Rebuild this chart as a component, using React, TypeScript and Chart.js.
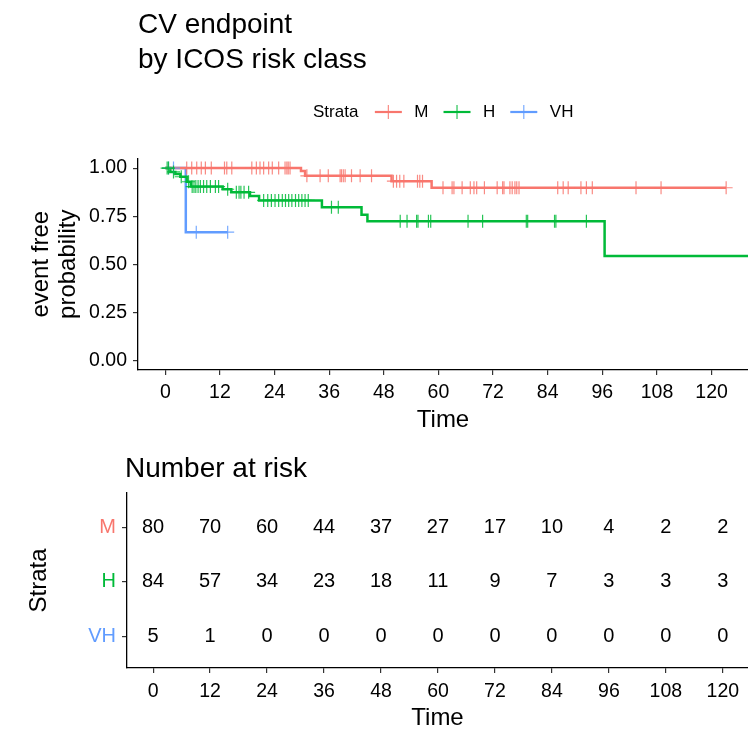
import React, { useEffect, useRef } from 'react';
import { Chart, registerables } from 'chart.js';

Chart.register(...registerables);

const FONT = '"Liberation Sans", Arial, sans-serif';

// Strata
const strata = ['M', 'H', 'VH'];
const strataColors = ['#F8766D', '#00BA38', '#619CFF'];
const censorColors = ['rgba(248,118,109,0.85)', 'rgba(0,186,56,0.85)', 'rgba(97,156,255,0.85)'];

// Kaplan-Meier step curves (time at which survival changes, survival after)
const mTimes = [0, 29.8, 30.7, 49.7, 58.5, 123.2];
const mSurv = [1, 0.985, 0.96, 0.932, 0.898, 0.898];
const hTimes = [0, 1.1, 2.2, 3.3, 4.7, 5.6, 12.6, 14.5, 18.6, 20.6, 34.4, 43.1, 44.4, 96.5, 130];
const hSurv = [1, 0.98, 0.969, 0.955, 0.929, 0.904, 0.89, 0.874, 0.855, 0.832, 0.797, 0.758, 0.723, 0.543, 0.543];
const vhTimes = [0, 4.5, 13.7];
const vhSurv = [1, 0.667, 0.667];

// Censoring times
const mCensor = [4.7, 5.8, 6.9, 7.9, 8.8, 10.1, 13.0, 13.5, 14.6, 19.0, 20.0, 20.8, 21.6, 22.7, 23.5, 24.9,
  26.3, 26.7, 27.0, 27.4, 31.1, 34.0, 35.8, 38.4, 38.7, 39.1, 39.5, 40.9, 42.8, 45.3, 50.1, 50.8, 51.5, 52.4,
  55.4, 55.9, 56.5, 61.0, 63.0, 63.4, 65.2, 67.0, 67.8, 68.4, 70.1, 72.9, 74.1, 74.4, 75.7, 76.2, 76.8, 77.2,
  77.7, 86.2, 87.4, 88.5, 91.3, 92.5, 93.8, 103.4, 108.9, 123.2];
const hCensor = [0.4, 0.7, 1.8, 3.5, 5.1, 5.9, 6.3, 6.7, 7.2, 7.7, 8.4, 9.1, 9.9, 11.0, 11.7, 13.7, 15.6, 16.2,
  16.6, 17.3, 18.3, 21.6, 22.5, 23.3, 24.1, 24.9, 25.7, 26.4, 27.1, 27.8, 28.6, 29.3, 30.0, 30.7, 31.4, 36.5,
  38.0, 51.6, 53.1, 55.2, 55.5, 57.8, 58.3, 66.5, 69.7, 79.3, 79.6, 85.5, 85.8, 92.5];
const vhCensor = [0.7, 1.8, 6.8, 13.7];

// Axes
const timeTicks = [0, 12, 24, 36, 48, 60, 72, 84, 96, 108, 120];
const probTicks = [0, 0.25, 0.5, 0.75, 1];

// Number at risk at timeTicks
const riskM = [80, 70, 60, 44, 37, 27, 17, 10, 4, 2, 2];
const riskH = [84, 57, 34, 23, 18, 11, 9, 7, 3, 3, 3];
const riskVH = [5, 1, 0, 0, 0, 0, 0, 0, 0, 0, 0];

function survAt(times: number[], surv: number[], t: number) {
  let s = surv[0];
  for (let i = 0; i < times.length; i++) {
    if (times[i] <= t) s = surv[i];
  }
  return s;
}

const curves = [
  { times: mTimes, surv: mSurv, censor: mCensor },
  { times: hTimes, surv: hSurv, censor: hCensor },
  { times: vhTimes, surv: vhSurv, censor: vhCensor },
];

const topDecorPlugin = {
  id: 'topDecor',
  afterDraw(chart: any) {
    const ctx = chart.ctx;
    ctx.save();
    ctx.fillStyle = '#000';
    ctx.textAlign = 'left';
    ctx.textBaseline = 'alphabetic';
    ctx.font = `28px ${FONT}`;
    ctx.fillText('CV endpoint', 138, 33);
    ctx.fillText('by ICOS risk class', 138, 68);

    // legend
    const ly = 112;
    ctx.font = `17px ${FONT}`;
    ctx.textBaseline = 'middle';
    let x = 313;
    ctx.fillStyle = '#000';
    ctx.fillText('Strata', x, ly);
    x += ctx.measureText('Strata').width + 16.5;
    strata.forEach((name, i) => {
      const col = strataColors[i];
      ctx.strokeStyle = col;
      ctx.lineWidth = 2.2;
      ctx.beginPath();
      ctx.moveTo(x, ly);
      ctx.lineTo(x + 27, ly);
      ctx.stroke();
      ctx.strokeStyle = censorColors[i];
      ctx.lineWidth = 1.2;
      ctx.beginPath();
      ctx.moveTo(x + 13.5, ly - 7);
      ctx.lineTo(x + 13.5, ly + 7);
      ctx.stroke();
      x += 27 + 12.5;
      ctx.fillStyle = '#000';
      ctx.fillText(name, x, ly);
      x += ctx.measureText(name).width + 15;
    });
    ctx.restore();
  },
};

const riskTextPlugin = {
  id: 'riskText',
  afterDatasetsDraw(chart: any) {
    const ctx = chart.ctx;
    const xs = chart.scales.x;
    const ys = chart.scales.y;
    ctx.save();
    ctx.font = `20px ${FONT}`;
    ctx.fillStyle = '#000';
    ctx.textAlign = 'center';
    ctx.textBaseline = 'middle';
    chart.data.datasets.forEach((ds: any) => {
      ds.data.forEach((p: any) => {
        ctx.fillText(String(p.n), xs.getPixelForValue(p.x), ys.getPixelForValue(p.y));
      });
    });
    ctx.fillStyle = '#000';
    ctx.textAlign = 'left';
    ctx.textBaseline = 'alphabetic';
    ctx.font = `28px ${FONT}`;
    ctx.fillText('Number at risk', 125, 37);
    ctx.restore();
  },
};

export default function App() {
  const topRef = useRef<HTMLCanvasElement>(null);
  const botRef = useRef<HTMLCanvasElement>(null);

  useEffect(() => {
    const lineDatasets: any[] = [];
    curves.forEach((c, i) => {
      lineDatasets.push({
        type: 'line',
        label: strata[i],
        data: c.times.map((t, k) => ({ x: t, y: c.surv[k] })),
        borderColor: strataColors[i],
        borderWidth: 2.5,
        stepped: 'before',
        pointRadius: 0,
        fill: false,
        order: 2,
      });
    });
    curves.forEach((c, i) => {
      lineDatasets.push({
        type: 'scatter',
        label: strata[i] + ' censor',
        data: c.censor.map((t) => ({ x: t, y: survAt(c.times, c.surv, t) })),
        pointStyle: 'cross',
        pointRadius: 6.5,
        pointBorderWidth: 1.2,
        borderColor: censorColors[i],
        backgroundColor: censorColors[i],
        showLine: false,
        order: 1,
      });
    });

    const tickFont = { family: FONT, size: 19.5 };
    const titleFont = { family: FONT, size: 24, lineHeight: 1.2 };

    const top = new Chart(topRef.current!, {
      type: 'line',
      data: { datasets: lineDatasets },
      plugins: [topDecorPlugin],
      options: {
        responsive: false,
        animation: false,
        events: [],
        layout: { autoPadding: false, padding: { top: 158.5, left: 0, right: 0, bottom: 0 } },
        plugins: { legend: { display: false }, tooltip: { enabled: false }, title: { display: false } },
        scales: {
          x: {
            type: 'linear',
            min: -6,
            max: 128,
            afterBuildTicks: (s: any) => { s.ticks = timeTicks.map((v) => ({ value: v })); },
            afterFit: (s: any) => { s.height = 70; s.paddingLeft = 0; s.paddingRight = 0; },
            ticks: { font: tickFont, color: '#000', padding: 6, maxRotation: 0, autoSkip: false, callback: (v: any) => String(v) },
            grid: { display: true, drawOnChartArea: false, drawTicks: true, tickLength: 5, color: '#333', lineWidth: 1.2 },
            border: { display: true, color: '#000', width: 1.3 },
            title: { display: true, text: 'Time', font: titleFont, color: '#000', padding: { top: 0, bottom: 5.6 } },
          },
          y: {
            type: 'linear',
            min: -0.05,
            max: 1.05,
            afterBuildTicks: (s: any) => { s.ticks = probTicks.map((v) => ({ value: v })); },
            afterFit: (s: any) => { s.width = 138; s.paddingTop = 0; s.paddingBottom = 0; },
            ticks: { font: tickFont, color: '#000', padding: 6, callback: (v: any) => Number(v).toFixed(2) },
            grid: { display: true, drawOnChartArea: false, drawTicks: true, tickLength: 5, color: '#333', lineWidth: 1.2 },
            border: { display: true, color: '#000', width: 1.3 },
            title: { display: true, text: ['event free', 'probability'], font: { family: FONT, size: 24, lineHeight: 1.12 }, color: '#000', padding: { top: 28.3, bottom: 0 } },
          },
        },
      } as any,
    });

    const riskSets = [riskM, riskH, riskVH];
    const bottom = new Chart(botRef.current!, {
      type: 'scatter',
      data: {
        datasets: riskSets.map((arr, i) => ({
          label: strata[i],
          data: arr.map((n, k) => ({ x: timeTicks[k], y: i + 1, n })),
          pointRadius: 0,
          showLine: false,
        })),
      },
      plugins: [riskTextPlugin],
      options: {
        responsive: false,
        animation: false,
        events: [],
        layout: { autoPadding: false, padding: { top: 53, left: 0, right: 0, bottom: 0 } },
        plugins: { legend: { display: false }, tooltip: { enabled: false } },
        scales: {
          x: {
            type: 'linear',
            min: -5.5,
            max: 125.3,
            afterBuildTicks: (s: any) => { s.ticks = timeTicks.map((v) => ({ value: v })); },
            afterFit: (s: any) => { s.height = 62; s.paddingLeft = 0; s.paddingRight = 0; },
            ticks: { font: tickFont, color: '#000', padding: 7, maxRotation: 0, autoSkip: false, callback: (v: any) => String(v) },
            grid: { display: true, drawOnChartArea: false, drawTicks: true, tickLength: 5, color: '#333', lineWidth: 1.2 },
            border: { display: true, color: '#000', width: 1.3 },
            title: { display: true, text: 'Time', font: { family: FONT, size: 24, lineHeight: 1.0 }, color: '#000', padding: { top: 0, bottom: 0 } },
          },
          y: {
            type: 'linear',
            min: 0.37,
            max: 3.58,
            reverse: true,
            afterBuildTicks: (s: any) => { s.ticks = [1, 2, 3].map((v) => ({ value: v })); },
            afterFit: (s: any) => { s.width = 127; s.paddingTop = 0; s.paddingBottom = 0; },
            ticks: {
              font: { family: FONT, size: 20 },
              padding: 6,
              color: (c: any) => strataColors[c.index] || '#000',
              callback: (v: any) => strata[Number(v) - 1],
            },
            grid: { display: true, drawOnChartArea: false, drawTicks: true, tickLength: 5, color: '#333', lineWidth: 1.2 },
            border: { display: true, color: '#000', width: 1.3 },
            title: { display: true, text: 'Strata', font: titleFont, color: '#000', padding: { top: 24.6, bottom: 0 } },
          },
        },
      } as any,
    });

    return () => {
      top.destroy();
      bottom.destroy();
    };
  }, []);

  return (
    <div style={{ position: 'absolute', left: 0, top: 0, width: 748, height: 730, background: '#fff' }}>
      <canvas ref={topRef} width={748} height={440} style={{ position: 'absolute', left: 0, top: 0, width: 748, height: 440 }} />
      <canvas ref={botRef} width={748} height={290} style={{ position: 'absolute', left: 0, top: 440, width: 748, height: 290 }} />
    </div>
  );
}
